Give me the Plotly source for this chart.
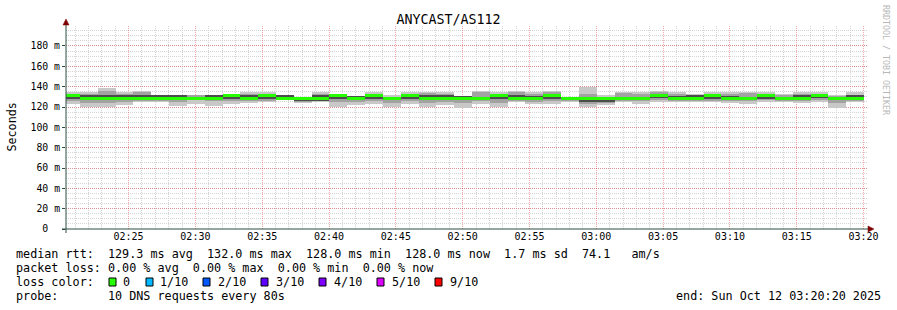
import plotly.graph_objects as go
import pandas as pd

# ---------------- data ----------------
chart_title = "ANYCAST/AS112"
step_start = pd.date_range("2025-10-12 02:20:02", periods=45, freq="80s")
step_seconds = 80

# median rtt per step (ms)
med = [131, 128, 128, 128, 128, 128, 128, 128, 128, 131,
       128, 131, 128, 128, 128, 131, 128, 131, 128, 131,
       128, 128, 128, 128, 131, 128, 128, 131, 128, 128,
       128, 128, 128, 131, 128, 128, 131, 128, 128, 131,
       128, 128, 131, 128, 128]
# smoke envelopes (ms): outer = min..max, mid, inner
hi = [135, 135, 139, 135, 136, 132, 132, 132, 132, 133,
      135, 135, 132, 129, 135, 132, 131, 135, 132, 135,
      135, 135, 131, 136, 135, 136, 135, 136, 130, 140,
      132, 135, 135, 136, 135, 133, 135, 135, 135, 135,
      133, 135, 135, 132, 135]
hi2 = [133, 133, 136, 133, 135, 132, 132, 132, 132, 132,
       133, 133, 132, 129, 133, 132, 131, 132, 130, 133,
       134, 133, 131, 135, 133, 135, 133, 135, 130, 133,
       130, 134, 133, 135, 133, 132, 133, 133, 134, 133,
       132, 133, 133, 131, 132]
hi3 = [131, 132, 132, 132, 132, 132, 132, 128, 132, 131,
       132, 131, 132, 128, 132, 131, 131, 131, 128, 131,
       132, 132, 131, 130, 131, 132, 131, 131, 129, 129,
       128, 130, 129, 131, 131, 132, 131, 131, 130, 131,
       130, 132, 131, 130, 132]
lo3 = [128, 127, 127, 127, 127, 127, 127, 128, 127, 128,
       127, 128, 128, 126, 126, 128, 128, 128, 128, 128,
       128, 127, 127, 127, 128, 127, 127, 128, 127, 125,
       125, 127, 127, 129, 127, 127, 128, 127, 127, 128,
       127, 127, 129, 127, 127]
lo2 = [126, 124, 124, 125, 126, 126, 125, 127, 126, 126,
       126, 126, 128, 125, 126, 125, 125, 126, 124, 126,
       124, 125, 124, 126, 124, 126, 125, 126, 126, 123,
       124, 126, 126, 127, 126, 126, 126, 126, 126, 127,
       126, 126, 127, 124, 126]
lo = [123, 120, 120, 122, 125, 125, 121, 123, 121, 123,
      124, 125, 128, 124, 125, 120, 122, 123, 120, 123,
      120, 122, 119, 123, 120, 125, 123, 123, 125, 120,
      122, 125, 123, 125, 125, 125, 125, 124, 123, 125,
      125, 124, 125, 119, 125]

y_tick_vals = [0, 20, 40, 60, 80, 100, 120, 140, 160, 180]
y_tick_text = ["0\u00a0\u00a0", "20 m", "40 m", "60 m", "80 m", "100 m",
               "120 m", "140 m", "160 m", "180 m"]

loss_labels = ["0", "1/10", "2/10", "3/10", "4/10", "5/10", "9/10"]
loss_colors = ["#26ff00", "#00b8ff", "#0059ff", "#5e00ff", "#7e00ff", "#dd00ff", "#ff0000"]

legend_lines = [
    "median rtt:  129.3 ms avg  132.0 ms max  128.0 ms min  128.0 ms now  1.7 ms sd  74.1   am/s",
    "packet loss: 0.00 % avg  0.00 % max  0.00 % min  0.00 % now",
    "loss color:",
    "probe:       10 DNS requests every 80s",
]
end_text = "end: Sun Oct 12 03:20:20 2025"

# ---------------- figure ----------------
MONO = "DejaVu Sans Mono"
centers = step_start + pd.Timedelta(seconds=step_seconds / 2)
width_ms = step_seconds * 1000

fig = go.Figure()

def band(lower, upper, color):
    fig.add_trace(go.Bar(
        x=centers, y=[u - l for l, u in zip(lower, upper)], base=lower,
        width=width_ms, marker=dict(color=color, line=dict(width=0)),
        hoverinfo="skip", showlegend=False))

band(lo, hi, "#c8c8c8")
band(lo2, hi2, "#a2a2a2")
band(lo3, hi3, "#4c4c4c")
med_h = 3.0
fig.add_trace(go.Bar(
    x=centers, y=[med_h] * len(med), base=[m - med_h / 2 for m in med],
    width=width_ms, marker=dict(color=loss_colors[0], line=dict(width=0)),
    hoverinfo="skip", showlegend=False))

L, R, T, B = 66, 29, 26, 81
W, H = 897, 310
PH = H - T - B

fig.update_layout(
    width=W, height=H, autosize=False,
    margin=dict(l=L, r=R, t=T, b=B, pad=0),
    paper_bgcolor="white", plot_bgcolor="white",
    barmode="overlay", bargap=0,
    showlegend=False,
    font=dict(family=MONO, color="black"),
    title=dict(text=chart_title, x=0.5, xref="container", xanchor="center",
               y=1 - 19 / H, yref="container", yanchor="middle",
               font=dict(family=MONO, size=13.3, color="black")),
)

grid_major = "rgba(222,48,48,0.42)"
grid_minor = "#d4d4d4"

fig.update_xaxes(
    type="date",
    range=["2025-10-12 02:20:19", "2025-10-12 03:20:20"],
    tickformat="%H:%M", tick0="2025-10-12 00:00:00", dtick=300000,
    showgrid=True, gridcolor=grid_major, griddash="1px,1px", gridwidth=1,
    minor=dict(dtick=60000, tick0="2025-10-12 00:00:00", showgrid=True,
               gridcolor=grid_minor, griddash="1px,1px", gridwidth=1),
    ticks="", showline=False, zeroline=False,
    tickfont=dict(family=MONO, size=10, color="black"),
    fixedrange=True,
)
fig.update_yaxes(
    range=[0, PH / 1.0167],
    tickmode="array", tickvals=y_tick_vals, ticktext=y_tick_text,
    showgrid=True, gridcolor=grid_major, griddash="1px,1px", gridwidth=1,
    minor=dict(tickmode="linear", dtick=5, tick0=0, showgrid=True,
               gridcolor=grid_minor, griddash="1px,1px", gridwidth=1),
    ticks="outside", ticklen=3, tickcolor="#2C4D43",
    showline=False, zeroline=False,
    tickfont=dict(family=MONO, size=9.8, color="black"),
    fixedrange=True,
)

AXIS = "#2C4D43"
ARROW = "#7F0000"
shapes = []
# y axis line
shapes.append(dict(type="line", xref="paper", yref="paper", xsizemode="pixel", ysizemode="pixel",
                   xanchor=0, yanchor=0, x0=0, x1=0, y0=-4, y1=PH + 1,
                   line=dict(color=AXIS, width=1)))
# x axis line
shapes.append(dict(type="line", xref="paper", yref="paper", xsizemode="pixel", ysizemode="pixel",
                   xanchor=0, yanchor=0, x0=-4, x1=W - L - R + 2, y0=0, y1=0,
                   line=dict(color=AXIS, width=1)))
# arrows
shapes.append(dict(type="path", xref="paper", yref="paper", xsizemode="pixel", ysizemode="pixel",
                   xanchor=0, yanchor=0,
                   path=f"M -3,{PH + 1} L 3,{PH + 1} L 0,{PH + 7} Z",
                   fillcolor=ARROW, line=dict(color=ARROW, width=0.5)))
shapes.append(dict(type="path", xref="paper", yref="paper", xsizemode="pixel", ysizemode="pixel",
                   xanchor=0, yanchor=0,
                   path=f"M {W - L - R},-3 L {W - L - R},3 L {W - L - R + 6},0 Z",
                   fillcolor=ARROW, line=dict(color=ARROW, width=0.5)))

def nb(s):
    return s.replace(" ", "\u00a0")

annotations = []
TXT = 11.75
PADX = 2  # annotation inner padding compensation
line_y = [254, 268, 282, 296]
for txt, yc in zip(legend_lines, line_y):
    annotations.append(dict(text=nb(txt), xref="paper", yref="paper", x=0, y=0,
                            xshift=16 - L - PADX, yshift=-(yc - (H - B)),
                            xanchor="left", yanchor="middle", showarrow=False,
                            font=dict(family=MONO, size=TXT, color="black")))
annotations.append(dict(text=nb(end_text), xref="paper", yref="paper", x=1, y=0,
                        xshift=881 - (W - R) + PADX, yshift=-(296 - (H - B)),
                        xanchor="right", yanchor="middle", showarrow=False,
                        font=dict(family=MONO, size=TXT, color="black")))

box_left = [109, 146, 203, 261, 319, 377, 435]
label_left = [123, 160, 218, 276, 334, 392, 450]
for bl, tl, lab, col in zip(box_left, label_left, loss_labels, loss_colors):
    shapes.append(dict(type="rect", xref="paper", yref="paper", xsizemode="pixel", ysizemode="pixel",
                       xanchor=0, yanchor=0, x0=bl - L, x1=bl - L + 7,
                       y0=-(278 - (H - B)), y1=-(286 - (H - B)),
                       fillcolor=col, line=dict(color="black", width=1)))
    annotations.append(dict(text=lab, xref="paper", yref="paper", x=0, y=0,
                            xshift=tl - L - PADX, yshift=-(282 - (H - B)),
                            xanchor="left", yanchor="middle", showarrow=False,
                            font=dict(family=MONO, size=TXT, color="black")))

# y axis title
annotations.append(dict(text="Seconds", xref="paper", yref="paper", x=0, y=0.5,
                        xshift=11 - L, xanchor="center", yanchor="middle",
                        textangle=-90, showarrow=False,
                        font=dict(family=MONO, size=11.7, color="black")))
# rrdtool watermark
annotations.append(dict(text=nb("RRDTOOL / TOBI OETIKER"), xref="paper", yref="paper", x=1, y=1,
                        xshift=886 - (W - R), yshift=-(60 - T),
                        xanchor="center", yanchor="middle", textangle=90, showarrow=False,
                        font=dict(family=MONO, size=8.3, color="#b8b8b8")))

fig.update_layout(shapes=shapes, annotations=annotations)

fig.write_html("out.html")
